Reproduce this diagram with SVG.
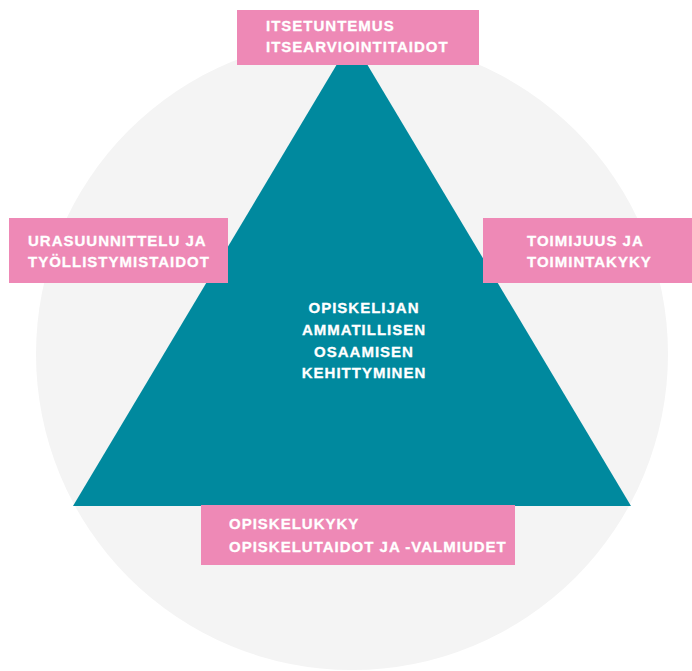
<svg xmlns="http://www.w3.org/2000/svg" width="692" height="671" viewBox="0 0 692 671">
  <style>
    .box { fill: #EE89B6; }
    .lbl { font-family: "Liberation Sans", Arial, sans-serif; font-weight: bold; font-size: 15px; fill: #FFFFFF; letter-spacing: 1px; stroke: #FFFFFF; stroke-width: 0.3px; }
    .mid { text-anchor: middle; }
  </style>
  <rect x="0" y="0" width="692" height="671" fill="#FFFFFF"/>
  <g id="background">
    <circle cx="352" cy="354" r="316" fill="#F4F4F4"/>
  </g>
  <g id="triangle">
    <polygon points="352,39 73,506 631,506" fill="#00899E"/>
    <text class="lbl mid" x="364" y="313">OPISKELIJAN</text>
    <text class="lbl mid" x="364" y="335">AMMATILLISEN</text>
    <text class="lbl mid" x="364" y="357">OSAAMISEN</text>
    <text class="lbl mid" x="364" y="378">KEHITTYMINEN</text>
  </g>
  <g id="connectors"></g>
  <g id="node-top">
    <rect class="box" x="237" y="10" width="242" height="55"/>
    <text class="lbl" x="266" y="31">ITSETUNTEMUS</text>
    <text class="lbl" x="266" y="52">ITSEARVIOINTITAIDOT</text>
  </g>
  <g id="node-left">
    <rect class="box" x="9" y="218" width="219" height="65"/>
    <text class="lbl" x="28" y="246">URASUUNNITTELU JA</text>
    <text class="lbl" x="28" y="267">TYÖLLISTYMISTAIDOT</text>
  </g>
  <g id="node-right">
    <rect class="box" x="483" y="218" width="209" height="65"/>
    <text class="lbl" x="527" y="246">TOIMIJUUS JA</text>
    <text class="lbl" x="527" y="267">TOIMINTAKYKY</text>
  </g>
  <g id="node-bottom">
    <rect class="box" x="201" y="505" width="314" height="60"/>
    <text class="lbl" x="229" y="529">OPISKELUKYKY</text>
    <text class="lbl" x="229" y="552">OPISKELUTAIDOT JA -VALMIUDET</text>
  </g>
</svg>
